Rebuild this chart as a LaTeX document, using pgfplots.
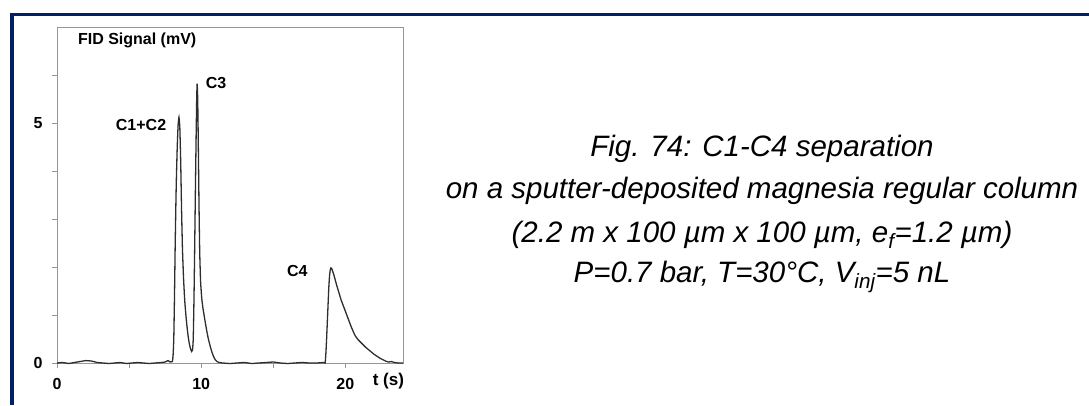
\documentclass[border=0pt]{standalone}
\usepackage{fontspec}
\setmainfont{Liberation Sans}
\usepackage{pgfplots}
\pgfplotsset{compat=1.18}
\definecolor{navy}{RGB}{0,33,99}
\definecolor{axgray}{RGB}{150,150,150}
\definecolor{trace}{RGB}{45,45,45}

\begin{document}
\begin{tikzpicture}[x=1pt,y=1pt]
\useasboundingbox (0,0) rectangle (1089,405);
% frame
\fill[navy] (10,389) rectangle (1089,392);
\fill[navy] (10,0) rectangle (14,392);

\begin{axis}[
    at={(57pt,42pt)}, anchor=south west,
    scale only axis,
    width=346pt, height=336pt,
    xmin=0, xmax=24, ymin=0, ymax=7,
    clip=false,
    axis line style={axgray, line width=0.9pt},
    tick style={axgray, line width=0.9pt},
    tick align=outside, tick pos=left,
    major tick length=5pt, minor tick length=5pt,
    xtick={0,10,20}, minor xtick={5,15},
    ytick={0,5}, minor ytick={1,2,3,4,6},
    ticklabel style={font=\fontsize{16}{16}\selectfont\bfseries},
    /pgf/number format/assume math mode=true,
    xticklabel style={yshift=-7pt},
    yticklabel style={xshift=-6pt},
]
\addplot[trace, line width=1.3pt, smooth, tension=0.3] coordinates {
(0,0.00) (0.4,0.01) (0.8,-0.01) (1.2,0.01) (1.6,0.03) (2.0,0.05) (2.4,0.04) (2.8,0.01)
(3.2,0.00) (3.6,-0.01) (4.0,0.00) (4.4,0.01) (4.8,-0.01) (5.2,0.00) (5.6,0.01) (6.0,0.00)
(6.4,-0.01) (6.8,0.00) (7.2,0.01) (7.5,0.02) (7.7,0.05) (7.85,0.02) (8.0,0.03)
(8.05,0.15) (8.1,0.5) (8.15,1.4) (8.2,2.5) (8.27,3.7) (8.34,4.5) (8.4,4.95) (8.46,5.12)
(8.52,4.9) (8.58,4.2) (8.64,3.2) (8.7,2.4) (8.78,1.75) (8.86,1.3) (8.94,1.0) (9.02,0.75)
(9.1,0.55) (9.18,0.4) (9.26,0.3) (9.34,0.24) (9.4,0.27) (9.45,0.5)
(9.5,1.3) (9.55,2.4) (9.6,3.6) (9.65,4.7) (9.69,5.5) (9.72,5.82) (9.76,5.5) (9.8,4.6)
(9.85,3.3) (9.9,2.3) (9.96,1.7) (10.04,1.35) (10.12,1.15) (10.2,1.0) (10.3,0.82) (10.4,0.65)
(10.5,0.5) (10.6,0.38) (10.7,0.27) (10.8,0.18) (10.9,0.11) (11.0,0.06) (11.1,0.03) (11.25,0.01)
(11.5,0.0) (12,-0.01) (12.5,0.0) (13,0.01) (13.5,-0.01) (14,0.0) (14.5,0.01) (15,0.02)
(15.5,0.0) (16,-0.01) (16.5,0.0) (17,0.01) (17.5,0.0) (18,0.0) (18.5,0.01) (18.6,0.0)
(18.65,0.2) (18.7,0.5) (18.75,0.85) (18.8,1.2) (18.85,1.55) (18.9,1.8) (18.95,1.93) (19.0,1.98)
(19.05,1.97) (19.1,1.93) (19.2,1.84) (19.3,1.73) (19.4,1.62) (19.5,1.52) (19.6,1.42) (19.7,1.32)
(19.8,1.24) (19.9,1.16) (20.0,1.08) (20.1,1.0) (20.2,0.92) (20.3,0.84) (20.4,0.76) (20.5,0.69)
(20.6,0.62) (20.7,0.56) (20.8,0.52) (20.9,0.48) (21.0,0.45) (21.2,0.39) (21.4,0.33) (21.6,0.28)
(21.8,0.23) (22.0,0.18) (22.2,0.14) (22.4,0.10) (22.6,0.07) (22.8,0.04) (23.0,0.02) (23.2,0.03)
(23.4,0.01) (23.7,0.0) (24,0.0)
};
\node[font=\fontsize{16}{16}\selectfont\bfseries] at (axis cs:5.56,6.72) {FID Signal (mV)};
\node[font=\fontsize{16}{16}\selectfont\bfseries] at (axis cs:5.83,4.96) {C1+C2};
\node[font=\fontsize{16}{16}\selectfont\bfseries] at (axis cs:11.04,5.84) {C3};
\node[font=\fontsize{16}{16}\selectfont\bfseries] at (axis cs:16.67,1.92) {C4};
\node[font=\fontsize{17}{17}\selectfont\bfseries] at (axis cs:22.99,-0.38) {t (s)};
\end{axis}

% caption
\begin{scope}[every node/.style={anchor=base, font=\fontsize{29.5}{29.5}\selectfont\itshape, inner sep=0pt}]
\node at (762,249) {Fig. 74: C1-C4 separation};
\node at (762,207) {on a sputter-deposited magnesia regular column};
\node at (762,163) {(2.2 m x 100 µm x 100 µm, e\textsubscript{f}=1.2 µm)};
\node at (762,123) {P=0.7 bar, T=30°C, V\textsubscript{inj}=5 nL};
\end{scope}
\end{tikzpicture}
\end{document}
